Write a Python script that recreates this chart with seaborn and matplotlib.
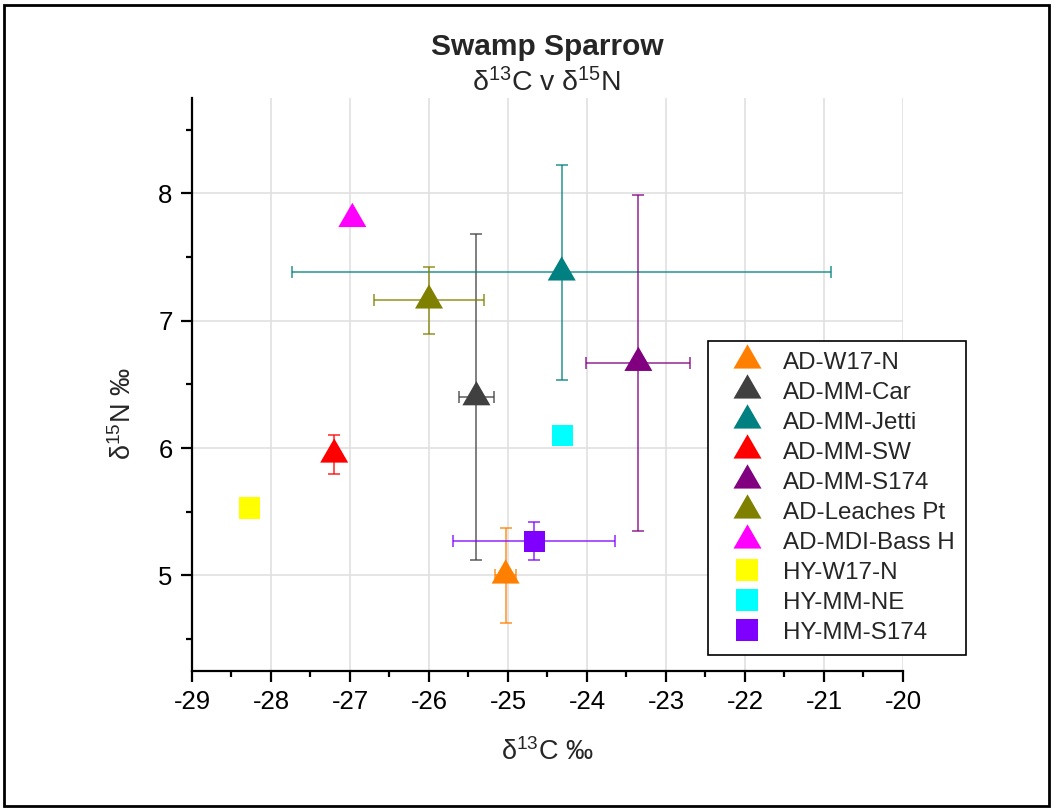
import numpy as np
import pandas as pd
import matplotlib
matplotlib.use("Agg")
import matplotlib.pyplot as plt
import seaborn as sns
from matplotlib.lines import Line2D
from matplotlib.patches import Rectangle

# ---- data ----
groups = ["AD-W17-N", "AD-MM-Car", "AD-MM-Jetti", "AD-MM-SW", "AD-MM-S174",
          "AD-Leaches Pt", "AD-MDI-Bass H", "HY-W17-N", "HY-MM-NE", "HY-MM-S174"]
kinds = ["tri", "tri", "tri", "tri", "tri", "tri", "tri", "sq", "sq", "sq"]
d13C = [-25.03, -25.40, -24.32, -27.20, -23.35, -26.00, -26.97, -28.27, -24.31, -24.67]
d15N = [5.00, 6.40, 7.38, 5.95, 6.67, 7.16, 7.80, 5.53, 6.10, 5.27]
d13C_err = [0.13, 0.22, 3.41, 0.0, 0.66, 0.70, 0.0, 0.0, 0.0, 1.02]
d15N_err = [0.37, 1.28, 0.845, 0.15, 1.32, 0.26, 0.0, 0.0, 0.0, 0.15]
colors = ["#FF8000", "#404040", "#008080", "#FF0000", "#800080",
          "#808000", "#FF00FF", "#FFFF00", "#00FFFF", "#8000FF"]

df = pd.DataFrame({"group": groups, "kind": kinds, "x": d13C, "y": d15N,
                   "xerr": d13C_err, "yerr": d15N_err})
palette = dict(zip(groups, colors))

sns.set_theme(style="white")
plt.rcParams["font.family"] = ["Liberation Sans", "DejaVu Sans"]
plt.rcParams["mathtext.fontset"] = "custom"
plt.rcParams["mathtext.rm"] = "Liberation Sans"
plt.rcParams["mathtext.it"] = "Liberation Sans:italic"
plt.rcParams["mathtext.bf"] = "Liberation Sans:bold"

fig = plt.figure(figsize=(10.53, 8.10), dpi=100)
ax = fig.add_axes([192/1053, 1-671/810, (903-192)/1053, (671-98)/810])

# triangle marker with centroid at the data point
tri = [(-1, -0.577), (1, -0.577), (0, 1.155), (-1, -0.577)]
tri_ms = 23.3
sq_ms = 15.2

# error bars (beneath markers)
for g, x, y, xe, ye, c in zip(groups, d13C, d15N, d13C_err, d15N_err, colors):
    if xe > 0 or ye > 0:
        ax.errorbar(x, y, xerr=xe if xe > 0 else None, yerr=ye if ye > 0 else None,
                    fmt="none", ecolor=c, elinewidth=1.1, capsize=4.5,
                    capthick=1.1, alpha=0.85, zorder=2)

tri_df = df[df["kind"] == "tri"]
sq_df = df[df["kind"] == "sq"]
sns.scatterplot(data=tri_df, x="x", y="y", hue="group", palette=palette,
                marker=tri, s=tri_ms**2, linewidth=0, legend=False, ax=ax, zorder=3)
sns.scatterplot(data=sq_df, x="x", y="y", hue="group", palette=palette,
                marker="s", s=sq_ms**2, linewidth=0, legend=False, ax=ax, zorder=3)

ax.set_xlim(-29, -20)
ax.set_ylim(4.25, 8.75)
ax.set_xticks(np.arange(-29, -19, 1))
ax.set_xticks(np.arange(-28.5, -20, 1), minor=True)
ax.set_yticks([5, 6, 7, 8])
ax.set_yticks([4.5, 5.5, 6.5, 7.5, 8.5], minor=True)
ax.set_xticklabels([str(v) for v in range(-29, -19)])
ax.grid(True, which="major", color="#e0e0e0", linewidth=1.2)
ax.set_axisbelow(True)
for side in ["top", "right"]:
    ax.spines[side].set_visible(False)
for side in ["left", "bottom"]:
    ax.spines[side].set_color("black")
    ax.spines[side].set_linewidth(1.6)
ax.tick_params(which="major", direction="out", length=8, width=1.6,
               colors="black", labelsize=18.5, pad=6, left=True, bottom=True)
ax.tick_params(which="minor", direction="out", length=4.5, width=1.6,
               colors="black", left=True, bottom=True)

ax.set_xlabel("δ$^{13}$C ‰", fontsize=19.5, labelpad=17)
ax.set_ylabel("δ$^{15}$N ‰", fontsize=19.5)
ax.yaxis.set_label_coords(-0.078, 0.4485)

fig.text(547/1053, 1-47/810, "Swamp Sparrow", ha="center", va="center",
         fontsize=21.5, fontweight="bold")
fig.text(547/1053, 1-83/810, "δ$^{13}$C v δ$^{15}$N", ha="center", va="center",
         fontsize=20.5)

handles = []
for g, k, c in zip(groups, kinds, colors):
    if k == "tri":
        handles.append(Line2D([], [], linestyle="none", marker=tri,
                              markersize=tri_ms, markerfacecolor=c,
                              markeredgewidth=0))
    else:
        handles.append(Line2D([], [], linestyle="none", marker="s",
                              markersize=sq_ms, markerfacecolor=c,
                              markeredgewidth=0))
leg = ax.legend(handles, groups, loc="upper left",
                bbox_to_anchor=(708/1053, 1-341/810),
                bbox_transform=fig.transFigure, prop={"size": 17.4},
                frameon=True, fancybox=False, edgecolor="black", framealpha=1,
                borderpad=0.45, labelspacing=0.33, handlelength=2.3,
                handletextpad=0.35, borderaxespad=0)
leg.get_frame().set_linewidth(1.2)

fig.patches.append(Rectangle((4/1053, 4/810), 1-8/1053, 1-9/810,
                             transform=fig.transFigure, fill=False,
                             edgecolor="black", linewidth=2))

fig.savefig("out.png", dpi=100)
